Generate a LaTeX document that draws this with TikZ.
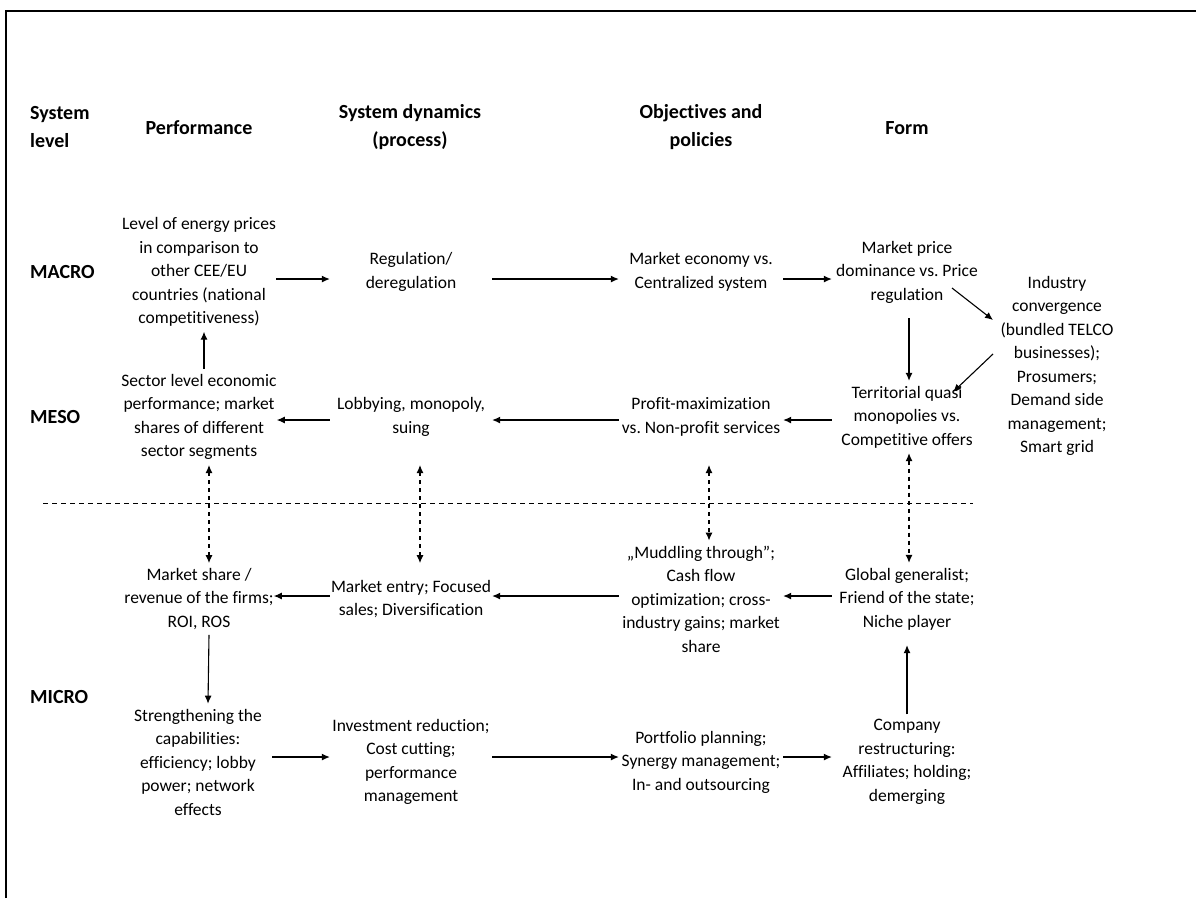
\documentclass[tikz,border=0pt]{standalone}
\usepackage{fontspec}
\setmainfont{Carlito}[Ligatures=CommonOff]
\frenchspacing
\usetikzlibrary{arrows.meta,calc}

\begin{document}
\begin{tikzpicture}[x=1pt,y=-1pt,
    txt/.style={align=center,inner xsep=0pt,inner ysep=5pt,font=\fontsize{17.5}{23.5}\selectfont},
    perf/.style={txt,minimum width=148pt},
    dyn/.style={txt,minimum width=162pt},
    obj/.style={txt,minimum width=164pt},
    form/.style={txt,minimum width=150pt},
    head/.style={align=center,font=\fontsize{20}{28}\selectfont\bfseries},
    lvl/.style={head,anchor=west,align=left,inner xsep=0pt},
    arr/.style={-{Latex[length=8pt,width=7pt]},line width=1.1pt},
    darr/.style={{Latex[length=8pt,width=7pt]}-{Latex[length=8pt,width=7pt]},line width=1.1pt,dash pattern=on 4pt off 4pt}]
    \useasboundingbox (0,0) rectangle (1196,898);

    % Rahmen
    \draw[line width=2pt] (6,898) -- (6,11) -- (1196,11);

    % Kopfzeile
    \node[lvl] (hlevel) at (30,127) {System\\level};
    \node[head] (hperf) at (199,128) {Performance};
    \node[head] (hdyn) at (410,127) {System dynamics\\(process)};
    \node[head] (hobj) at (701,127) {Objectives and\\policies};
    \node[head] (hform) at (907,128) {Form};

    % Ebenen
    \node[lvl] (macro) at (30,272) {MACRO};
    \node[lvl] (meso) at (30,417) {MESO};
    \node[lvl] (micro) at (30,697) {MICRO};

    % MACRO
    \node[perf] (perf1) at (199,272) {Level of energy prices\\in comparison to\\other CEE/EU\\countries (national\\competitiveness)};
    \node[dyn] (dyn1) at (411,272) {Regulation/\\deregulation};
    \node[obj] (obj1) at (701,272) {Market economy vs.\\Centralized system};
    \node[form] (form1) at (907,272) {Market price\\dominance vs. Price\\regulation};
    \node[txt] (conv) at (1057,366) {Industry\\convergence\\(bundled TELCO\\businesses);\\Prosumers;\\Demand side\\management;\\Smart grid};

    % MESO
    \node[perf] (perf2) at (199,417) {Sector level economic\\performance; market\\shares of different\\sector segments};
    \node[dyn] (dyn2) at (411,417) {Lobbying, monopoly,\\suing};
    \node[obj] (obj2) at (701,417) {Profit-maximization\\vs. Non-profit services};
    \node[form] (form2) at (907,417) {Territorial quasi\\monopolies vs.\\Competitive offers};

    % Trennlinie
    \draw[line width=1pt,dash pattern=on 5pt off 4pt] (43,503) -- (973,503);

    % MICRO
    \node[perf] (perf3) at (199,599) {Market share /\\revenue of the firms;\\ROI, ROS};
    \node[dyn] (dyn3) at (411,599) {Market entry; Focused\\sales; Diversification};
    \node[obj] (obj3) at (701,599) {„Muddling through”;\\Cash flow\\optimization; cross-\\industry gains; market\\share};
    \node[form] (form3) at (907,599) {Global generalist;\\Friend of the state;\\Niche player};

    \node[perf] (perf4) at (198,762) {Strengthening the\\capabilities:\\efficiency; lobby\\power; network\\effects};
    \node[dyn] (dyn4) at (411,762) {Investment reduction;\\Cost cutting;\\performance\\management};
    \node[obj] (obj4) at (701,762) {Portfolio planning;\\Synergy management;\\In- and outsourcing};
    \node[form] (form4) at (907,762) {Company\\restructuring:\\Affiliates; holding;\\demerging};

    % Pfeile MACRO
    \draw[arr] ([yshift=-7pt]perf1.east) -- ([yshift=-7pt]dyn1.west);
    \draw[arr] ([yshift=-7pt]dyn1.east) -- ([yshift=-7pt]obj1.west);
    \draw[arr] ([yshift=-7pt]obj1.east) -- ([yshift=-7pt]form1.west);
    \draw[arr] ($(form1.center)+(45,16)$) -- ($(conv.center)+(-64,-46)$);
    \draw[arr] ($(conv.center)+(-64,-12)$) -- ($(form2.center)+(46,-25)$);
    \draw[arr] ([xshift=2pt,yshift=-10pt]form1.south) -- ([xshift=2pt]form2.north);
    \draw[arr] ([xshift=5pt]perf2.north) -- ([xshift=5pt]perf1.south);

    % Pfeile MESO
    \draw[arr] ([yshift=-3pt]dyn2.west) -- ([yshift=-3pt]perf2.east);
    \draw[arr] ([yshift=-3pt]obj2.west) -- ([yshift=-3pt]dyn2.east);
    \draw[arr] ([yshift=-3pt]form2.west) -- ([yshift=-3pt]obj2.east);

    % MESO <-> MICRO
    \draw[darr] ([xshift=10pt]perf2.south) -- ([xshift=10pt]perf3.north);
    \draw[darr] ($(dyn2.center |- perf2.south)+(9,0)$) -- ($(dyn3.center |- perf3.north)+(9,0)$);
    \draw[darr] ($(obj2.center |- perf2.south)+(8,0)$) -- ([xshift=8pt]obj3.north);
    \draw[darr] ([xshift=2pt]form2.south) -- ([xshift=2pt]form3.north);

    % Pfeile MICRO
    \draw[arr] ([yshift=3pt]dyn3.west) -- ([yshift=3pt]perf3.east);
    \draw[arr] ([yshift=3pt]obj3.west) -- ([yshift=3pt]dyn3.east);
    \draw[arr] ([yshift=3pt]form3.west) -- ([yshift=3pt]obj3.east);
    \draw[arr] ([xshift=10pt]perf3.south) -- ([xshift=10pt]perf4.north);
    \draw[arr] (form4.north) -- ([yshift=-10pt]form3.south);
    \draw[arr] ([yshift=5pt]perf4.east) -- ([yshift=5pt]dyn4.west);
    \draw[arr] ([yshift=5pt]dyn4.east) -- ([yshift=5pt]obj4.west);
    \draw[arr] ([yshift=5pt]obj4.east) -- ([yshift=5pt]form4.west);
\end{tikzpicture}
\end{document}
